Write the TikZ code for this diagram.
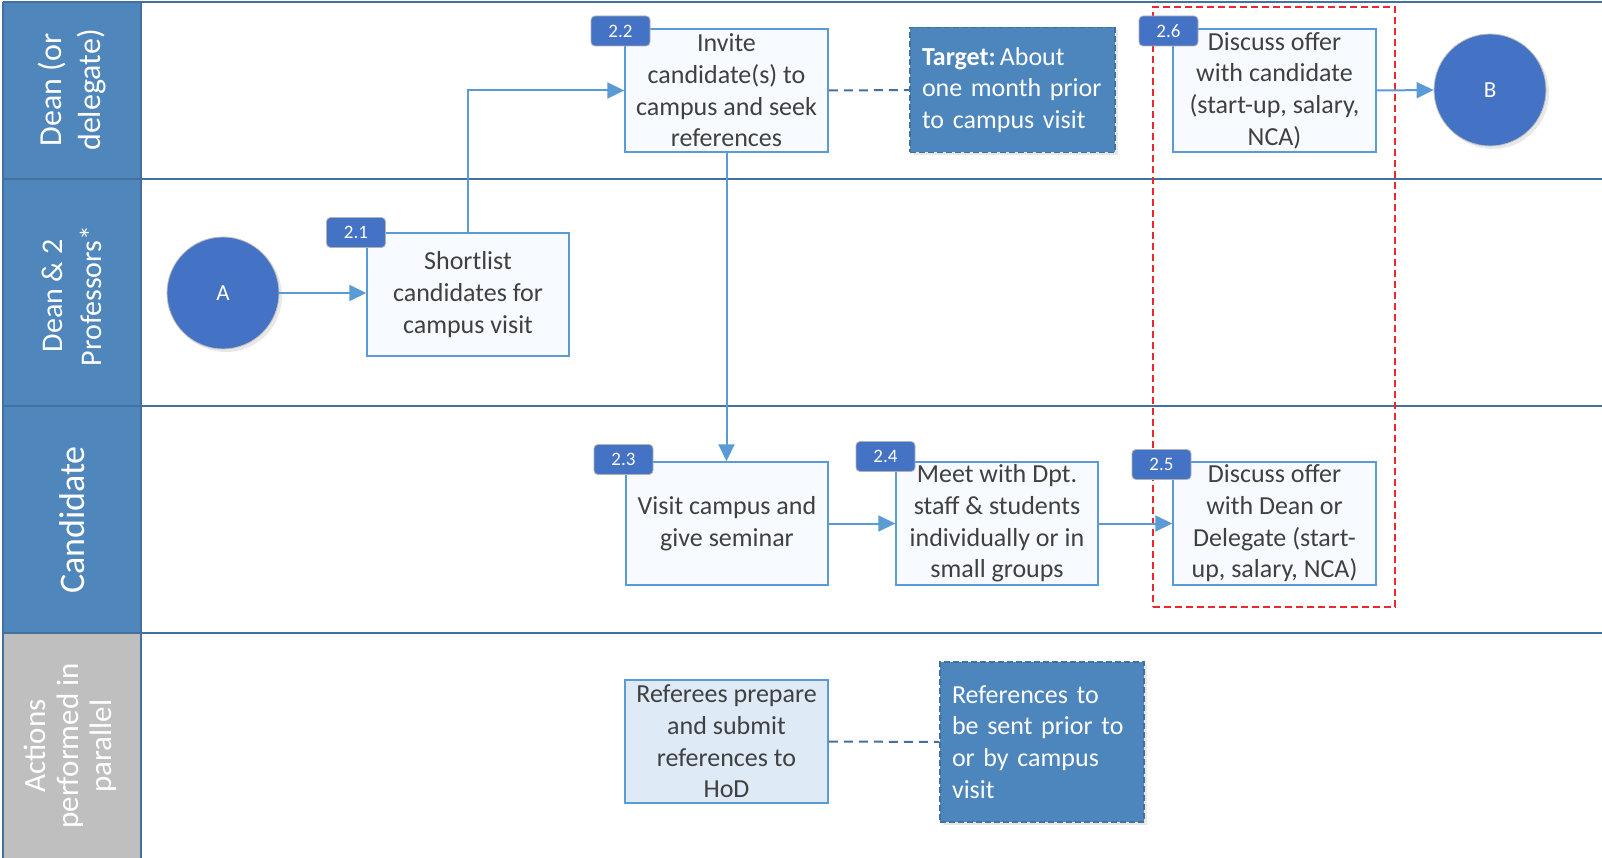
\documentclass[tikz,border=0pt]{standalone}
\usepackage{fontspec}
\setmainfont{Carlito}
\usetikzlibrary{arrows.meta,shadows}

\definecolor{lanehead}{RGB}{79,134,187}
\definecolor{laneline}{RGB}{65,113,156}
\definecolor{lanegray}{RGB}{191,191,191}
\definecolor{markblue}{RGB}{68,114,196}
\definecolor{boxline}{RGB}{91,155,213}
\definecolor{boxfill}{RGB}{247,250,254}
\definecolor{reffill}{RGB}{222,235,247}
\definecolor{notefill}{RGB}{77,133,189}
\definecolor{textgray}{RGB}{64,64,64}
\definecolor{groupred}{RGB}{235,40,45}

\tikzset{
  lanesep/.style={draw=laneline, line width=2pt},
  headtxt/.style={rotate=90, text=white, align=center, inner sep=0pt},
  stepbox/.style={draw=boxline, line width=1.5pt, fill=boxfill, minimum width=203pt,
    minimum height=123pt, inner xsep=2pt, inner ysep=0pt, text=textgray, align=center,
    font=\fontsize{26}{31.7}\selectfont},
  refbox/.style={stepbox, fill=reffill},
  notebox/.style={draw=laneline, dashed, dash pattern=on 6pt off 3pt, line width=1.5pt,
    fill=notefill, text=white, align=left, inner xsep=12pt, inner ysep=0pt,
    font=\fontsize{26}{31.7}\selectfont,
    drop shadow={opacity=0.18, shadow xshift=3pt, shadow yshift=-3pt}},
  badge/.style={rounded corners=4pt, fill=markblue, draw=black!30, line width=0.8pt,
    minimum width=59pt, minimum height=30pt, inner sep=0pt, text=white,
    font=\fontsize{19}{21}\selectfont},
  endpoint/.style={circle, fill=markblue, draw=black!25, line width=0.8pt,
    minimum size=112pt, inner sep=0pt, text=white, font=\fontsize{23}{25}\selectfont,
    drop shadow={opacity=0.18, shadow xshift=3pt, shadow yshift=-3pt}},
  flow/.style={draw=boxline, line width=2pt, -{Triangle[length=17pt,width=16pt]}},
  link/.style={draw=laneline, line width=2pt, dashed, dash pattern=on 9pt off 6pt},
  groupbox/.style={draw=groupred, line width=1.5pt, dashed, dash pattern=on 7pt off 4pt}
}

\begin{document}
\begin{tikzpicture}[x=1pt, y=-1pt]
\useasboundingbox (0,0) rectangle (1602,858);
\fill[white] (0,0) rectangle (1602,858);

% lane headers
\fill[lanehead] (3,2) rectangle (141,633);
\fill[lanegray] (3,633) rectangle (141,858);
\draw[lanesep] (3,2) -- (3,858);
\draw[lanesep] (141,2) -- (141,858);
\draw[lanesep] (3,2) -- (1602,2);
\draw[lanesep] (3,179) -- (1602,179);
\draw[lanesep] (3,406) -- (1602,406);
\draw[lanesep] (3,633) -- (1602,633);

\node[headtxt, font=\fontsize{32}{39}\selectfont] (h1) at (72,90) {Dean (or\\delegate)};
\node[headtxt, font=\fontsize{30}{39}\selectfont] (h2) at (72,296) {Dean \& 2\\Professors*};
\node[headtxt, font=\fontsize{36}{40}\selectfont] (h3) at (72,520) {Candidate};
\node[headtxt, font=\fontsize{31}{33}\selectfont] (h4) at (70,746) {Actions\\performed in\\parallel};

% offer discussion group
\node[groupbox, minimum width=242pt, minimum height=600pt] (offer) at (1274,307) {};

% start and end points
\node[endpoint] (A) at (223,293) {A};
\node[endpoint] (B) at (1490,90) {B};

% process steps
\node[stepbox, minimum width=202pt] (s21) at (468,294.5) {Shortlist\\candidates for\\campus visit};
\node[stepbox] (s22) at (726.5,90.5) {Invite\\candidate(s) to\\campus and seek\\references};
\node[notebox, minimum width=205pt, minimum height=125pt, text width=181pt] (tgt) at (1012.5,90)
  {\textbf{Target:}\hspace{4pt}About\\one month prior\\to campus visit};
\node[stepbox] (s26) at (1274.5,90.5) {Discuss offer\\with candidate\\(start-up, salary,\\NCA)};
\node[stepbox, minimum width=202pt] (s23) at (727,523.5) {Visit campus and\\give seminar};
\node[stepbox, minimum width=202pt] (s24) at (997,523.5) {Meet with Dpt.\\staff \& students\\individually or in\\small groups};
\node[stepbox] (s25) at (1274.5,523.5) {Discuss offer\\with Dean or\\Delegate (start-\\up, salary, NCA)};
\node[refbox] (ref) at (726.5,741.5) {Referees prepare\\and submit\\references to\\HoD};
\node[notebox, minimum width=204pt, minimum height=160pt, text width=180pt] (refnote) at (1042,742)
  {References to\\be sent prior to\\or by campus\\visit};

% step numbers
\node[badge] (n21) at (356,232.5) {2.1};
\node[badge] (n22) at (620.5,31) {2.2};
\node[badge] (n23) at (623.5,459.5) {2.3};
\node[badge] (n24) at (885.5,456.5) {2.4};
\node[badge] (n25) at (1161.5,464.5) {2.5};
\node[badge] (n26) at (1168.5,31) {2.6};

% connectors
\draw[flow] (A.east) -- (A.east -| s21.west);
\draw[flow] (s21.north) |- (s22.west);
\draw[flow] (s22.south) -- (s22.south |- s23.north);
\draw[flow] (s23.east) -- (s24.west);
\draw[flow] (s24.east) -- (s25.west);
\draw[flow] (s26.east) -- (B.west);
\draw[link] (s22.east) -- (tgt.west);
\draw[link] (ref.east) -- (refnote.west);
\end{tikzpicture}
\end{document}
